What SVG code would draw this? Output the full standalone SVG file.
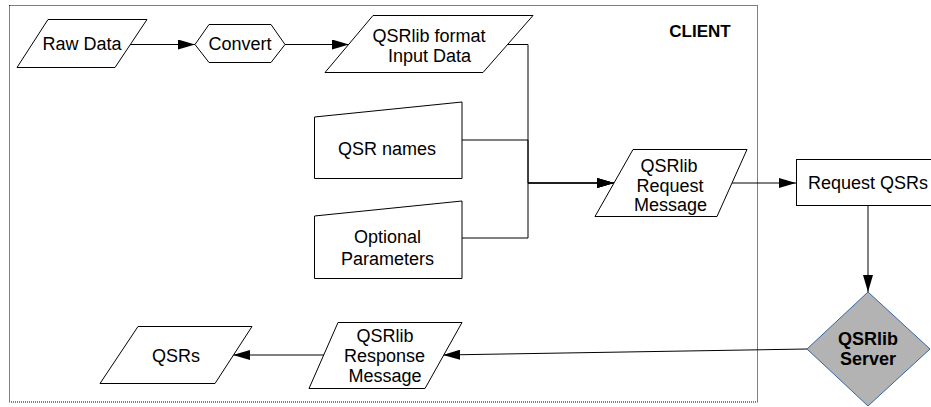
<svg xmlns="http://www.w3.org/2000/svg" width="931" height="407" viewBox="0 0 931 407">
<style>
text{font-family:"Liberation Sans",Arial,sans-serif;font-size:18px;fill:#000;text-anchor:middle}
.b{font-weight:bold}
.s{fill:#fff;stroke:#000;stroke-width:1}
.c{fill:none;stroke:#000;stroke-width:1}
</style>
<defs>
<marker id="ah" markerUnits="userSpaceOnUse" markerWidth="17" markerHeight="10" refX="17" refY="5" orient="auto">
<path d="M0,0 L17,5 L0,10 z" fill="#000"/>
</marker>
</defs>
<rect id="client" x="9.5" y="5.5" width="748" height="396.5" fill="none" stroke="#000" stroke-width="1" stroke-dasharray="1 1"/>
<text class="b" x="700" y="37" style="font-size:17px">CLIENT</text>
<g id="connectors">
<path class="c" d="M130,44.5 H195" marker-end="url(#ah)"/>
<path class="c" d="M285,44.5 H349" marker-end="url(#ah)"/>
<path class="c" d="M508,44.5 H528 V183 H614" marker-end="url(#ah)"/>
<path class="c" d="M462,140 H528 V183 H614" marker-end="url(#ah)"/>
<path class="c" d="M462,238 H528 V183 H614" marker-end="url(#ah)"/>
<path class="c" d="M732,183 H796" marker-end="url(#ah)"/>
<path class="c" d="M868,205 V292" marker-end="url(#ah)"/>
<path class="c" d="M807,349 L443,355" marker-end="url(#ah)"/>
<path class="c" d="M324,355 H233" marker-end="url(#ah)"/>
</g>
<g id="raw-data">
<polygon class="s" points="48,19.5 147,19.5 115,67.5 17,67.5"/>
<text x="82" y="50">Raw Data</text>
</g>
<g id="convert">
<polygon class="s" points="195,44.5 209,24.5 271,24.5 285,44.5 271,62.5 209,62.5"/>
<text x="240" y="50">Convert</text>
</g>
<g id="input-data">
<polygon class="s" points="373,15.5 533,15.5 483,72.5 325,72.5"/>
<text x="429" y="41.5">QSRlib format</text>
<text x="429.5" y="62">Input Data</text>
</g>
<g id="qsr-names">
<polygon class="s" points="314.5,117 462,102 462,178.5 314.5,178.5"/>
<text x="387" y="155">QSR names</text>
</g>
<g id="optional-parameters">
<polygon class="s" points="314.5,216 462,201 462,278.5 314.5,278.5"/>
<text x="387.5" y="243">Optional</text>
<text x="387.5" y="265">Parameters</text>
</g>
<g id="request-message">
<polygon class="s" points="633,149.5 747,149.5 717,216.5 595,216.5"/>
<text x="669" y="172">QSRlib</text>
<text x="670" y="191.5">Request</text>
<text x="670.5" y="211">Message</text>
</g>
<g id="request-qsrs">
<rect class="s" x="796.5" y="159.5" width="140" height="46"/>
<text x="868" y="189">Request QSRs</text>
</g>
<g id="qsrlib-server">
<polygon points="868,292 930,349 868,406 807,349" fill="#b3b3b3" stroke="#3465a4" stroke-width="1"/>
<text class="b" x="868" y="345">QSRlib</text>
<text class="b" x="868" y="365">Server</text>
</g>
<g id="response-message">
<polygon class="s" points="338,322.5 462,322.5 425,388.5 309,388.5"/>
<text x="385" y="342">QSRlib</text>
<text x="384.5" y="362">Response</text>
<text x="385" y="382">Message</text>
</g>
<g id="qsrs">
<polygon class="s" points="138,326.5 252,326.5 215,383.5 100,383.5"/>
<text x="176" y="362">QSRs</text>
</g>
</svg>
